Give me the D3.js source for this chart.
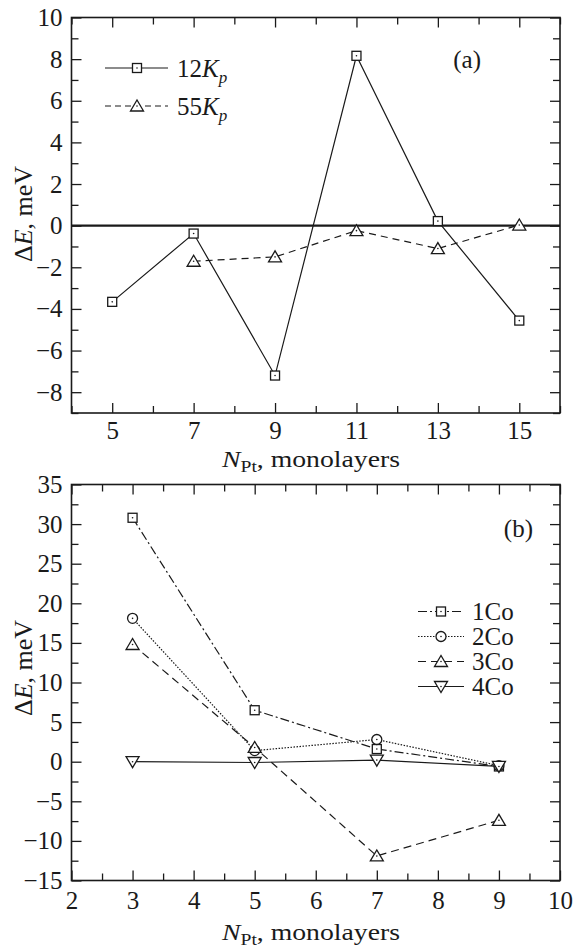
<!DOCTYPE html>
<html>
<head>
<meta charset="utf-8">
<script src="https://d3js.org/d3.v7.min.js"></script>
<style>
  body { margin: 0; background: #fff; }
</style>
</head>
<body>
<div id="chart"></div>
<script>
// panel (a): anisotropy difference vs Pt thickness
const nPtA = [5, 7, 9, 11, 13, 15];
const k12 = [-3.66, -0.38, -7.2, 8.16, 0.22, -4.56];
const nPtA55 = [7, 9, 11, 13, 15];
const k55 = [-1.71, -1.5, -0.24, -1.1, 0.03];
const yTicksA = [-8, -6, -4, -2, 0, 2, 4, 6, 8, 10];
const xTicksA = [5, 7, 9, 11, 13, 15];

// panel (b): number of Co layers
const nPtB = [3, 5, 7, 9];
const co1 = [30.8, 6.5, 1.6, -0.6];
const co2 = [18.1, 1.4, 2.8, -0.5];
const co3 = [14.8, 1.8, -11.9, -7.4];
const co4 = [0, -0.1, 0.2, -0.6];
const yTicksB = [-15, -10, -5, 0, 5, 10, 15, 20, 25, 30, 35];
const xTicksB = [2, 3, 4, 5, 6, 7, 8, 9, 10];

const width = 579, height = 950;
const ink = "#1a1a1a";
const serif = "'Liberation Serif', 'Times New Roman', serif";

const svg = d3.create("svg")
  .attr("width", width)
  .attr("height", height)
  .attr("font-family", serif);

svg.append("rect").attr("width", width).attr("height", height).attr("fill", "#fff");

// marker shapes
function marker(g, type, x, y) {
  if (type === "square") {
    g.append("rect").attr("x", x - 4.5).attr("y", y - 4.5).attr("width", 9).attr("height", 9)
      .attr("fill", "#fff").attr("stroke", ink).attr("stroke-width", 1.3);
  } else if (type === "circle") {
    g.append("circle").attr("cx", x).attr("cy", y).attr("r", 5)
      .attr("fill", "#fff").attr("stroke", ink).attr("stroke-width", 1.3);
  } else if (type === "up") {
    g.append("path").attr("d", `M${x - 6.5},${y + 5}L${x + 6.5},${y + 5}L${x},${y - 6}Z`)
      .attr("fill", "#fff").attr("stroke", ink).attr("stroke-width", 1.3);
  } else if (type === "down") {
    g.append("path").attr("d", `M${x - 6.5},${y - 5}L${x + 6.5},${y - 5}L${x},${y + 6}Z`)
      .attr("fill", "#fff").attr("stroke", ink).attr("stroke-width", 1.3);
  }
  // small dot in the middle
  g.append("circle").attr("cx", x).attr("cy", y).attr("r", 0.8).attr("fill", ink);
}

function drawSeries(g, xs, ys, x, y, type, dash) {
  const line = d3.line().x((d, i) => x(xs[i])).y(d => y(d));
  g.append("path")
    .attr("d", line(ys))
    .attr("fill", "none")
    .attr("stroke", ink)
    .attr("stroke-width", 1.2)
    .attr("stroke-dasharray", dash);
  ys.forEach((v, i) => marker(g, type, x(xs[i]), y(v)));
}

function frameAxes(g, x, y, xMajor, xMinor, yMajor, yMinor, top, bottom, left, right, xLabelPad) {
  const fmt = d3.format("d");
  // bottom
  g.append("g").attr("transform", `translate(0,${bottom})`)
    .call(d3.axisBottom(x).tickValues(xMinor).tickSize(-7).tickFormat(""))
    .call(a => a.select(".domain").remove());
  g.append("g").attr("transform", `translate(0,${bottom})`)
    .call(d3.axisBottom(x).tickValues(xMajor).tickSize(-10).tickPadding(xLabelPad).tickFormat(fmt))
    .call(a => a.select(".domain").remove())
    .call(a => a.selectAll("text").attr("font-size", 25).attr("fill", ink));
  // top
  g.append("g").attr("transform", `translate(0,${top})`)
    .call(d3.axisTop(x).tickValues(xMinor).tickSize(-7).tickFormat(""))
    .call(a => a.select(".domain").remove());
  g.append("g").attr("transform", `translate(0,${top})`)
    .call(d3.axisTop(x).tickValues(xMajor).tickSize(-10).tickFormat(""))
    .call(a => a.select(".domain").remove());
  // left
  g.append("g").attr("transform", `translate(${left},0)`)
    .call(d3.axisLeft(y).tickValues(yMinor).tickSize(-7).tickFormat(""))
    .call(a => a.select(".domain").remove());
  g.append("g").attr("transform", `translate(${left},0)`)
    .call(d3.axisLeft(y).tickValues(yMajor).tickSize(-10).tickPadding(9).tickFormat(fmt))
    .call(a => a.select(".domain").remove())
    .call(a => a.selectAll("text").attr("font-size", 25).attr("fill", ink));
  // right
  g.append("g").attr("transform", `translate(${right},0)`)
    .call(d3.axisRight(y).tickValues(yMinor).tickSize(-7).tickFormat(""))
    .call(a => a.select(".domain").remove());
  g.append("g").attr("transform", `translate(${right},0)`)
    .call(d3.axisRight(y).tickValues(yMajor).tickSize(-10).tickFormat(""))
    .call(a => a.select(".domain").remove());
  g.selectAll("g").attr("font-family", serif);
  g.selectAll(".tick line").attr("stroke", ink).attr("stroke-width", 1.3);
  g.append("rect")
    .attr("x", left).attr("y", top)
    .attr("width", right - left).attr("height", bottom - top)
    .attr("fill", "none").attr("stroke", ink).attr("stroke-width", 1.6);
}

function xTitle(g, cx, baseline) {
  // the original lettering is wider than Times, so stretch to its measured width
  const t = g.append("text").attr("x", cx - 89).attr("y", baseline)
    .attr("font-size", 24).attr("fill", ink)
    .attr("textLength", 178).attr("lengthAdjust", "spacingAndGlyphs");
  t.append("tspan").attr("font-style", "italic").text("N");
  t.append("tspan").attr("font-size", 17).attr("dy", 5).text("Pt");
  t.append("tspan").attr("dy", -5).text(", monolayers");
}

function yTitle(g, cy) {
  const t = g.append("text").attr("transform", `translate(32,${cy}) rotate(-90)`)
    .attr("text-anchor", "middle").attr("font-size", 26).attr("fill", ink);
  t.append("tspan").text("Δ");
  t.append("tspan").attr("font-style", "italic").text("E");
  t.append("tspan").text(", meV");
}

const left = 71.5, right = 560;

// ---------- panel (a)
{
  const top = 17.5, bottom = 413;
  const x = d3.scaleLinear().domain([4, 16]).range([left, right]);
  const y = d3.scaleLinear().domain([-9, 10]).range([bottom, top]);
  const g = svg.append("g");

  frameAxes(g, x, y, xTicksA, d3.range(4, 17, 2), yTicksA, d3.range(-9, 10, 2),
    top, bottom, left, right, 8);

  g.append("line")
    .attr("x1", left).attr("x2", right)
    .attr("y1", y(0)).attr("y2", y(0))
    .attr("stroke", ink).attr("stroke-width", 2.2);

  drawSeries(g, nPtA55, k55, x, y, "up", "7,5");
  drawSeries(g, nPtA, k12, x, y, "square", null);

  // legend
  const leg = [
    { label: "12", type: "square", dash: null, cy: 68 },
    { label: "55", type: "up", dash: "6,4", cy: 106 }
  ];
  leg.forEach(d => {
    g.append("line").attr("x1", 105).attr("x2", 168).attr("y1", d.cy).attr("y2", d.cy)
      .attr("stroke", ink).attr("stroke-width", 1.2).attr("stroke-dasharray", d.dash);
    marker(g, d.type, 137, d.cy);
    const t = g.append("text").attr("x", 177).attr("y", d.cy + 9).attr("font-size", 25).attr("fill", ink);
    t.append("tspan").text(d.label);
    t.append("tspan").attr("font-style", "italic").text("K");
    t.append("tspan").attr("font-style", "italic").attr("font-size", 17).attr("dy", 6).text("p");
  });

  g.append("text").attr("x", 481).attr("y", 68).attr("text-anchor", "end")
    .attr("font-size", 25).attr("fill", ink).text("(a)");

  xTitle(g, 311, 467);
  yTitle(g, 214);
}

// ---------- panel (b)
{
  const top = 484.5, bottom = 880.5;
  const x = d3.scaleLinear().domain([2, 10]).range([left, right]);
  const y = d3.scaleLinear().domain([-15, 35]).range([bottom, top]);
  const g = svg.append("g");

  frameAxes(g, x, y, xTicksB, d3.range(2.5, 10, 1), yTicksB, d3.range(-12.5, 35, 5),
    top, bottom, left, right, 11);

  const series = [
    { vals: co1, type: "square", dash: "9,3,2,3", name: "1Co" },
    { vals: co2, type: "circle", dash: "1.5,1.5", name: "2Co" },
    { vals: co3, type: "up", dash: "8,5", name: "3Co" },
    { vals: co4, type: "down", dash: null, name: "4Co" }
  ];
  series.forEach(s => drawSeries(g, nPtB, s.vals, x, y, s.type, s.dash));

  series.forEach((s, i) => {
    const cy = 611.5 + i * 25;
    g.append("line").attr("x1", 418).attr("x2", 464).attr("y1", cy).attr("y2", cy)
      .attr("stroke", ink).attr("stroke-width", 1.2).attr("stroke-dasharray", s.dash);
    marker(g, s.type, 441, cy);
    g.append("text").attr("x", 472).attr("y", cy + 8).attr("font-size", 25)
      .attr("fill", ink).text(s.name);
  });

  g.append("text").attr("x", 533).attr("y", 537).attr("text-anchor", "end")
    .attr("font-size", 25).attr("fill", ink).text("(b)");

  xTitle(g, 311, 940);
  yTitle(g, 668);
}

document.getElementById("chart").appendChild(svg.node());
</script>
</body>
</html>
